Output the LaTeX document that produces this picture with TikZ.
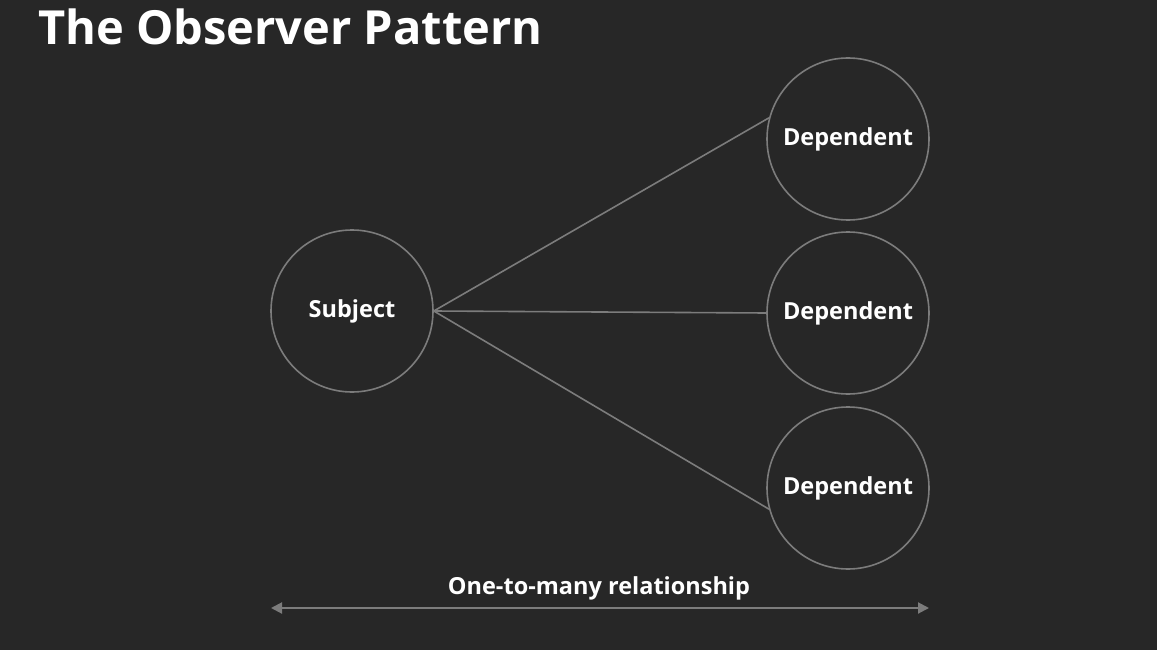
\documentclass[tikz,border=0pt]{standalone}
\usepackage{fontspec}
\setmainfont{Open Sans}
\usetikzlibrary{arrows.meta}
\definecolor{bg}{HTML}{272727}
\definecolor{edge}{HTML}{7C7C7C}
\begin{document}
\begin{tikzpicture}[x=1pt,y=-1pt,
  ring/.style={circle, draw=edge, line width=1.6pt, minimum size=162pt, inner sep=0pt,
    text=white, font=\fontsize{23.5}{28}\selectfont\bfseries},
  link/.style={draw=edge, line width=1.6pt},
  span/.style={draw=edge, line width=2pt, {Triangle[width=11pt,length=11pt]}-{Triangle[width=11pt,length=11pt]}}]
  \fill[bg] (0,0) rectangle (1157,650);
  \useasboundingbox (0,0) rectangle (1157,650);

  % title
  \node[anchor=base west, text=white, inner sep=0pt, font=\fontsize{47}{52}\selectfont\bfseries]
    (title) at (38,45) {The Observer Pattern};

  % subject and its dependents
  \node[ring] (subject) at (352,311) {Subject};
  \node[ring] (dep1) at (848,139) {Dependent};
  \node[ring] (dep2) at (848,313) {Dependent};
  \node[ring] (dep3) at (848,488) {Dependent};

  \draw[link] (subject.east) -- (dep1.165);
  \draw[link] (subject.east) -- (dep2.west);
  \draw[link] (subject.east) -- (dep3.195);

  % one-to-many span
  \coordinate (spanL) at (271,608);
  \coordinate (spanR) at (929,608);
  \draw[span] (spanL) -- (spanR);
  \node[anchor=base, text=white, inner sep=0pt, font=\fontsize{23.5}{28}\selectfont\bfseries]
    (rel) at (599,594) {One-to-many relationship};
\end{tikzpicture}
\end{document}
